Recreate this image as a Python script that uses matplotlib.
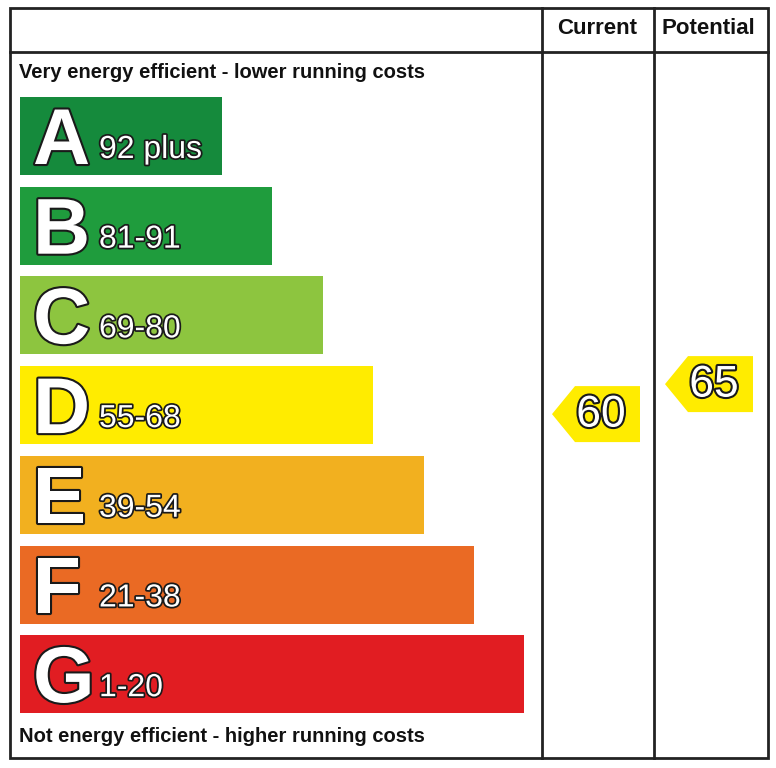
import matplotlib.pyplot as plt
import matplotlib.patheffects as pe
from matplotlib.patches import Rectangle, Polygon

# rating bands
bands = ['A', 'B', 'C', 'D', 'E', 'F', 'G']
ranges = ['92 plus', '81-91', '69-80', '55-68', '39-54', '21-38', '1-20']
band_lo = [92, 81, 69, 55, 39, 21, 1]
band_hi = [100, 91, 80, 68, 54, 38, 20]
colors = ['#158a3c', '#1f9c3d', '#8dc53f', '#ffec00', '#f2b01f', '#ea6a24', '#e11d22']

current = 60
potential = 65

plt.rcParams['font.family'] = ['Liberation Sans', 'DejaVu Sans']

fig = plt.figure(figsize=(7.76, 7.68), dpi=100)
ax = fig.add_axes([0, 0, 1, 1])
ax.set_xlim(0, 776)
ax.set_ylim(768, 0)
ax.axis('off')

edge = '#222222'
# frame + grid lines
ax.add_patch(Rectangle((10, 8), 758, 750, fill=False, ec=edge, lw=2))
ax.plot([10, 768], [52, 52], c=edge, lw=2)
ax.plot([542, 542], [8, 758], c=edge, lw=2)
ax.plot([654, 654], [8, 758], c=edge, lw=2)

ax.text(597, 29, 'Current', ha='center', va='center', fontsize=16, fontweight='bold', color='#111111')
ax.text(708, 29, 'Potential', ha='center', va='center', fontsize=16, fontweight='bold', color='#111111')
ax.text(19, 72, 'Very energy efficient - lower running costs', ha='left', va='center',
        fontsize=14.5, fontweight='bold', color='#111111')
ax.text(19, 737, 'Not energy efficient - higher running costs', ha='left', va='center',
        fontsize=14.5, fontweight='bold', color='#111111')

bar_top0, bar_h, step = 97, 78, 89.7
for i, (b, r, c) in enumerate(zip(bands, ranges, colors)):
    y0 = bar_top0 + i * step
    w = 202 + 50.4 * i
    ax.add_patch(Rectangle((20, y0), w, bar_h, fc=c, ec='none'))
    ax.text(33, y0 + bar_h - 11, b, ha='left', va='baseline', fontsize=57, fontweight='bold',
            color='white', path_effects=[pe.withStroke(linewidth=3, foreground='#1a1a1a')])
    ax.text(99, y0 + bar_h - 17, r, ha='left', va='baseline', fontsize=23, color='white',
            path_effects=[pe.withStroke(linewidth=2.5, foreground='#1a1a1a')])


def band_of(score):
    return [k for k in range(len(bands)) if band_lo[k] <= score <= band_hi[k]][0]


def arrow(x_left, score):
    # arrow height follows the score inside its band
    i = band_of(score)
    y0 = bar_top0 + i * step
    yc = y0 + (band_hi[i] - score) / (band_hi[i] - band_lo[i]) * bar_h
    h = 56
    pts = [(x_left, yc), (x_left + 23, yc - h / 2), (x_left + 88, yc - h / 2),
           (x_left + 88, yc + h / 2), (x_left + 23, yc + h / 2)]
    ax.add_patch(Polygon(pts, closed=True, fc=colors[i], ec='none'))
    ax.text(x_left + 49, yc + 1, str(score), ha='center', va='center', fontsize=32, color='white',
            path_effects=[pe.withStroke(linewidth=3, foreground='#1a1a1a')])


arrow(552, current)
arrow(665, potential)

fig.savefig('out.png', dpi=100)
